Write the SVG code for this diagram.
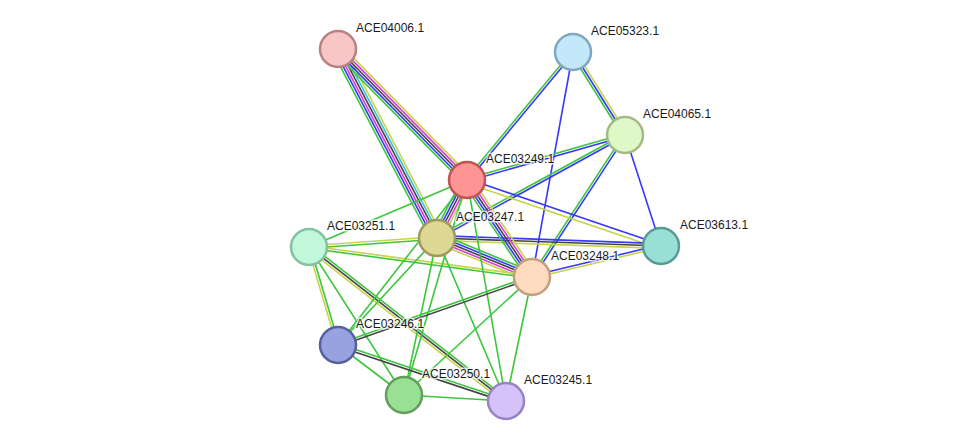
<svg xmlns="http://www.w3.org/2000/svg" width="975" height="447" viewBox="0 0 975 447">
<style>
.e line{fill:none;stroke-width:1.6}
.g{stroke:#3cc63c}.b{stroke:#3838ff}.m{stroke:#d83cd8}.k{stroke:#444}.c{stroke:#3cc0dc}.y{stroke:#c6d448}
.n circle{stroke-width:2.5}
text{font-family:"Liberation Sans",Arial,sans-serif;font-size:12px;fill:#1a1a1a;paint-order:stroke;stroke:#fff;stroke-width:3;stroke-opacity:0.75;stroke-linejoin:round}
</style>
<rect width="975" height="447" fill="#fff"/>
<g id="connectors" class="e">
<g transform="translate(338,49) rotate(62.36)"><line class="y" x2="213.4" y1="-6" y2="-6"/><line class="c" x2="213.4" y1="-3.6" y2="-3.6"/><line class="k" x2="213.4" y1="-1.2" y2="-1.2"/><line class="m" x2="213.4" y1="1.2" y2="1.2"/><line class="b" x2="213.4" y1="3.6" y2="3.6"/><line class="g" x2="213.4" y1="6" y2="6"/></g>
<g transform="translate(338,49) rotate(45.44)"><line class="y" x2="183.9" y1="-4.8" y2="-4.8"/><line class="m" x2="183.9" y1="-2.4" y2="-2.4"/><line class="k" x2="183.9" y1="0" y2="0"/><line class="b" x2="183.9" y1="2.4" y2="2.4"/><line class="g" x2="183.9" y1="4.8" y2="4.8"/></g>
<g transform="translate(573,52) rotate(129.63)"><line class="b" x2="166.2" y1="-1.2" y2="-1.2"/><line class="g" x2="166.2" y1="1.2" y2="1.2"/></g>
<g transform="translate(573,52) rotate(57.93)"><line class="y" x2="97.9" y1="-2.4" y2="-2.4"/><line class="b" x2="97.9" y1="0" y2="0"/><line class="g" x2="97.9" y1="2.4" y2="2.4"/></g>
<g transform="translate(573,52) rotate(100.33)"><line class="b" x2="228.7"/></g>
<g transform="translate(625,135) rotate(164.10)"><line class="b" x2="164.3" y1="-1.2" y2="-1.2"/><line class="g" x2="164.3" y1="1.2" y2="1.2"/></g>
<g transform="translate(625,135) rotate(151.28)"><line class="b" x2="214.4" y1="-1.2" y2="-1.2"/><line class="g" x2="214.4" y1="1.2" y2="1.2"/></g>
<g transform="translate(625,135) rotate(123.22)"><line class="b" x2="169.7" y1="-1.2" y2="-1.2"/><line class="g" x2="169.7" y1="1.2" y2="1.2"/></g>
<g transform="translate(625,135) rotate(72.03)"><line class="b" x2="116.7"/></g>
<g transform="translate(467,180) rotate(18.79)"><line class="b" x2="204.9" y1="-1.2" y2="-1.2"/><line class="y" x2="204.9" y1="3" y2="3"/></g>
<g transform="translate(437,238) rotate(2.05)"><line class="b" x2="224.1" y1="-2.4" y2="-2.4"/><line class="k" x2="224.1" y1="0" y2="0"/><line class="y" x2="224.1" y1="2.4" y2="2.4"/></g>
<g transform="translate(532,277) rotate(-13.51)"><line class="b" x2="132.7" y1="-1.2" y2="-1.2"/><line class="y" x2="132.7" y1="1.2" y2="1.2"/></g>
<g transform="translate(467,180) rotate(117.35)"><line class="y" x2="65.3" y1="-4.8" y2="-4.8"/><line class="m" x2="65.3" y1="-2.4" y2="-2.4"/><line class="k" x2="65.3" y1="0" y2="0"/><line class="b" x2="65.3" y1="2.4" y2="2.4"/><line class="g" x2="65.3" y1="4.8" y2="4.8"/></g>
<g transform="translate(467,180) rotate(56.17)"><line class="y" x2="116.8" y1="-4.8" y2="-4.8"/><line class="m" x2="116.8" y1="-2.4" y2="-2.4"/><line class="k" x2="116.8" y1="0" y2="0"/><line class="b" x2="116.8" y1="2.4" y2="2.4"/><line class="g" x2="116.8" y1="4.8" y2="4.8"/></g>
<g transform="translate(437,238) rotate(22.32)"><line class="g" x2="102.7" y1="-4.8" y2="-4.8"/><line class="b" x2="102.7" y1="-2.4" y2="-2.4"/><line class="k" x2="102.7" y1="0" y2="0"/><line class="m" x2="102.7" y1="2.4" y2="2.4"/><line class="y" x2="102.7" y1="4.8" y2="4.8"/></g>
<g transform="translate(309,247) rotate(-4.02)"><line class="y" x2="128.3" y1="-1.2" y2="-1.2"/><line class="g" x2="128.3" y1="1.2" y2="1.2"/></g>
<g transform="translate(309,247) rotate(7.66)"><line class="y" x2="225" y1="-1.2" y2="-1.2"/><line class="g" x2="225" y1="1.2" y2="1.2"/></g>
<g transform="translate(309,247) rotate(-22.98)"><line class="g" x2="171.6"/></g>
<g transform="translate(309,247) rotate(73.52)"><line class="g" x2="102.2" y1="-1.2" y2="-1.2"/><line class="y" x2="102.2" y1="1.2" y2="1.2"/></g>
<g transform="translate(309,247) rotate(57.30)"><line class="g" x2="175.9"/></g>
<g transform="translate(309,247) rotate(38.01)"><line class="g" x2="250" y1="-2.4" y2="-2.4"/><line class="k" x2="250" y1="0" y2="0"/><line class="y" x2="250" y1="2.4" y2="2.4"/></g>
<g transform="translate(437,238) rotate(132.78)"><line class="g" x2="145.8"/></g>
<g transform="translate(467,180) rotate(128.02)"><line class="g" x2="209.4"/></g>
<g transform="translate(437,238) rotate(101.87)"><line class="g" x2="160.4"/></g>
<g transform="translate(437,238) rotate(67.06)"><line class="g" x2="177"/></g>
<g transform="translate(467,180) rotate(106.33)"><line class="g" x2="224"/></g>
<g transform="translate(467,180) rotate(79.99)"><line class="g" x2="224.4"/></g>
<g transform="translate(532,277) rotate(101.84)"><line class="g" x2="126.7"/></g>
<g transform="translate(532,277) rotate(137.33)"><line class="g" x2="174.1"/></g>
<g transform="translate(532,277) rotate(160.68)"><line class="k" x2="205.6" y1="-1.2" y2="-1.2"/><line class="g" x2="205.6" y1="1.2" y2="1.2"/></g>
<g transform="translate(338,345) rotate(18.43)"><line class="g" x2="177.1" y1="-1.2" y2="-1.2"/><line class="k" x2="177.1" y1="1.2" y2="1.2"/></g>
<g transform="translate(338,345) rotate(37.15)"><line class="g" x2="82.8"/></g>
<g transform="translate(404,395) rotate(3.37)"><line class="g" x2="102.2"/></g>
</g>
<g id="n-ACE04006.1" class="n"><circle cx="338" cy="49" r="18" fill="#f8c6c6" stroke="#b88282"/><text x="356" y="32">ACE04006.1</text></g>
<g id="n-ACE05323.1" class="n"><circle cx="573" cy="52" r="18" fill="#c2e8fa" stroke="#7ea8c2"/><text x="591" y="35">ACE05323.1</text></g>
<g id="n-ACE04065.1" class="n"><circle cx="625" cy="135" r="18" fill="#e0f8c8" stroke="#a2ba84"/><text x="643" y="118">ACE04065.1</text></g>
<g id="n-ACE03249.1" class="n"><circle cx="467" cy="180" r="18" fill="#ff9494" stroke="#c05454"/><text x="486" y="163">ACE03249.1</text></g>
<g id="n-ACE03247.1" class="n"><circle cx="437" cy="238" r="18" fill="#ddd994" stroke="#a09a5c"/><text x="456" y="221">ACE03247.1</text></g>
<g id="n-ACE03251.1" class="n"><circle cx="309" cy="247" r="18" fill="#c2f8da" stroke="#82c2a0"/><text x="327" y="230">ACE03251.1</text></g>
<g id="n-ACE03613.1" class="n"><circle cx="661" cy="246" r="18" fill="#98e0d6" stroke="#589a92"/><text x="680" y="229">ACE03613.1</text></g>
<g id="n-ACE03248.1" class="n"><circle cx="532" cy="277" r="18" fill="#ffdcc0" stroke="#c0a080"/><text x="551" y="260">ACE03248.1</text></g>
<g id="n-ACE03246.1" class="n"><circle cx="338" cy="345" r="18" fill="#98a2e0" stroke="#55609e"/><text x="356" y="328">ACE03246.1</text></g>
<g id="n-ACE03250.1" class="n"><circle cx="404" cy="395" r="18" fill="#9ae094" stroke="#60a05a"/><text x="422" y="378">ACE03250.1</text></g>
<g id="n-ACE03245.1" class="n"><circle cx="506" cy="401" r="18" fill="#d4c2f8" stroke="#9882c2"/><text x="524" y="384">ACE03245.1</text></g>
</svg>
